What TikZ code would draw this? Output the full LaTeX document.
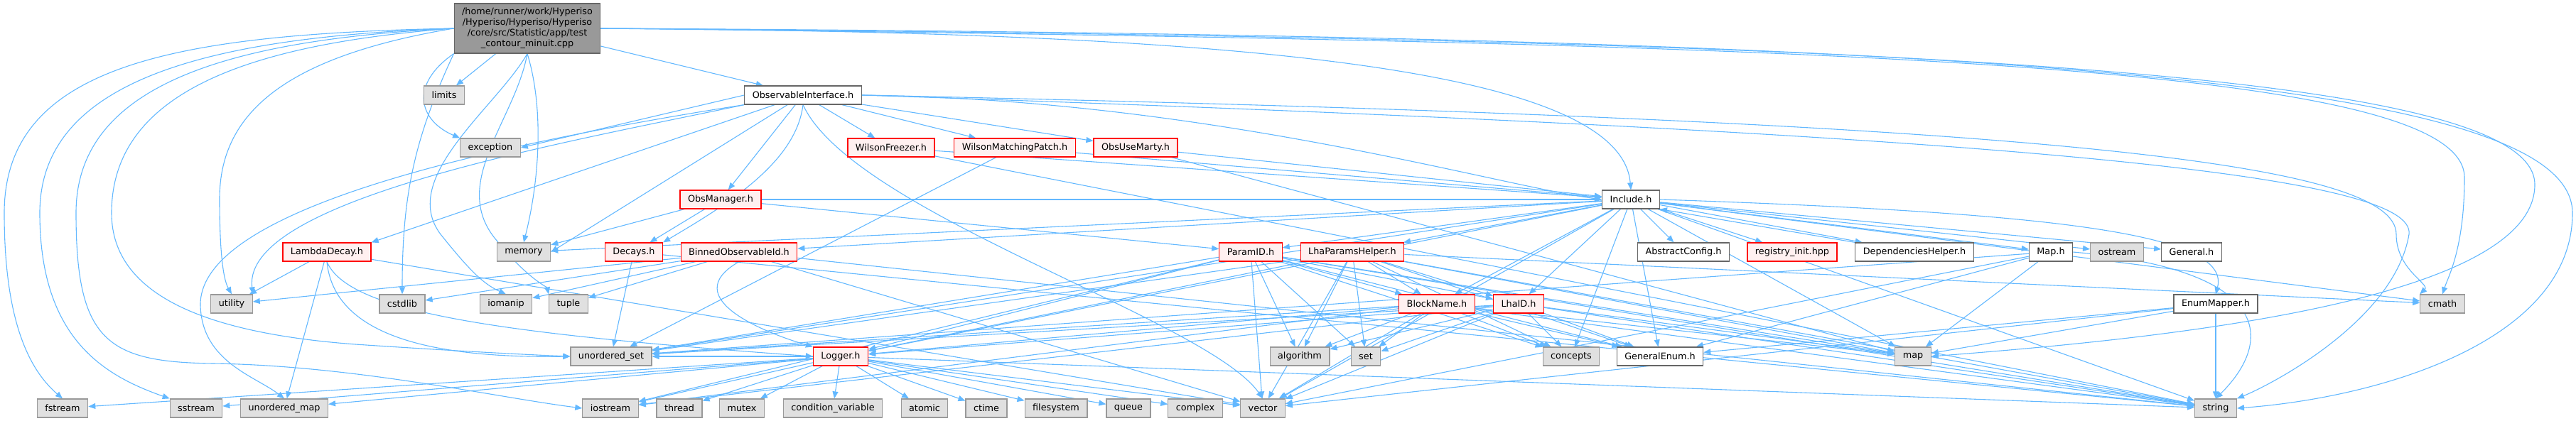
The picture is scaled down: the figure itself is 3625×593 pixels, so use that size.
\documentclass[tikz,border=0pt]{standalone}
\usepackage{fontspec}
\setmainfont{DejaVu Sans}
\usepackage{tikz}
\usetikzlibrary{arrows.meta,backgrounds}
\definecolor{depblue}{HTML}{63B8FF}
\definecolor{sysfill}{HTML}{E0E0E0}
\definecolor{sysdraw}{HTML}{999999}
\definecolor{redfill}{HTML}{FFF0F0}
\definecolor{plaindraw}{HTML}{666666}
\definecolor{mainfill}{HTML}{999999}

\begin{document}
\begin{tikzpicture}[x=1pt, y=-1pt,
	box/.style={font=\fontsize{12.8}{15}\selectfont, inner xsep=11pt, inner ysep=0pt, minimum height=26pt, line width=1.2pt},
	sysbox/.style={box, draw=sysdraw, fill=sysfill},
	redbox/.style={box, draw=red, fill=redfill},
	plainbox/.style={box, draw=plaindraw, fill=white},
	mainbox/.style={box, draw=plaindraw, fill=mainfill, align=center, minimum height=70pt},
	dep/.style={draw=depblue, line width=1.1pt, -{Triangle[length=10pt,width=8pt]}}]
			%%%%% START %%%%%
			\useasboundingbox (0,0) rectangle (3625,593);
			
			\node[mainbox] (main) at (742,40) {/home/runner/work/Hyperiso\\/Hyperiso/Hyperiso/Hyperiso\\/core/src/Statistic/app/test\\\_contour\_minuit.cpp};
			
			\node[sysbox] (limits) at (625,134) {limits};
			\node[plainbox] (oiface) at (1130,134) {ObservableInterface.h};
			
			\node[sysbox] (exc) at (690,208) {exception};
			\node[redbox] (wfreeze) at (1254,208) {WilsonFreezer.h};
			\node[redbox] (wmatch) at (1428,208) {WilsonMatchingPatch.h};
			\node[redbox] (obsmarty) at (1598,208) {ObsUseMarty.h};
			
			\node[redbox] (obsman) at (1014,281) {ObsManager.h};
			\node[plainbox] (incl) at (2295,281) {Include.h};
			
			\node[redbox] (lambdadec) at (460,355) {LambdaDecay.h};
			\node[sysbox] (memory) at (737,355) {memory};
			\node[redbox] (decays) at (892,355) {Decays.h};
			\node[redbox] (binned) at (1040,355) {BinnedObservableId.h};
			\node[redbox] (paramid) at (1760,355) {ParamID.h};
			\node[redbox] (lhaparams) at (1903,355) {LhaParamsHelper.h};
			\node[plainbox] (absconf) at (2369,355) {AbstractConfig.h};
			\node[redbox] (reginit) at (2522,355) {registry\_init.hpp};
			\node[plainbox] (depshelp) at (2694,355) {DependenciesHelper.h};
			\node[plainbox] (maph) at (2886,355) {Map.h};
			\node[sysbox] (ostream) at (2979,355) {ostream};
			\node[plainbox] (generalh) at (3084,355) {General.h};
			
			\node[sysbox] (utility) at (326,428) {utility};
			\node[sysbox] (cstdlib) at (566,428) {cstdlib};
			\node[sysbox] (iomanip) at (712,428) {iomanip};
			\node[sysbox] (tuple) at (800,428) {tuple};
			\node[redbox] (blockname) at (2022,428) {BlockName.h};
			\node[redbox] (lhaid) at (2137,428) {LhaID.h};
			\node[plainbox] (enummap) at (3118,428) {EnumMapper.h};
			\node[sysbox] (cmath) at (3437,428) {cmath};
			
			\node[sysbox] (uset) at (860,502) {unordered\_set};
			\node[redbox] (logger) at (1183,502) {Logger.h};
			\node[sysbox] (algorithm) at (1829,502) {algorithm};
			\node[sysbox] (set) at (1922,502) {set};
			\node[sysbox] (concepts) at (2211,502) {concepts};
			\node[plainbox] (genenum) at (2336,502) {GeneralEnum.h};
			\node[sysbox] (map) at (2692,502) {map};
			
			\node[sysbox] (fstream) at (88,575) {fstream};
			\node[sysbox] (sstream) at (276,575) {sstream};
			\node[sysbox] (umap) at (400,575) {unordered\_map};
			\node[sysbox] (iostream) at (859,575) {iostream};
			\node[sysbox] (thread) at (956,575) {thread};
			\node[sysbox] (mutex) at (1044,575) {mutex};
			\node[sysbox] (condvar) at (1172,575) {condition\_variable};
			\node[sysbox] (atomic) at (1301,575) {atomic};
			\node[sysbox] (ctime) at (1388,575) {ctime};
			\node[sysbox] (filesys) at (1486,575) {filesystem};
			\node[sysbox] (queue) at (1588,575) {queue};
			\node[sysbox] (complex) at (1682,575) {complex};
			\node[sysbox] (vector) at (1777,575) {vector};
			\node[sysbox] (string) at (3118,575) {string};
			
			\begin{pgfonlayer}{background}
			% test_contour_minuit.cpp
			\draw[dep] (main) -- (limits);
			\draw[dep] (main.south west) .. controls (575,120) and (590,170) .. (exc.north west);
			\draw[dep] (main) -- (oiface);
			\draw[dep] (main.east) .. controls (1700,45) and (2280,90) .. (incl.north);
			\draw[dep] (main.west) .. controls (250,48) and (6,90) .. (6,300) .. controls (6,450) and (40,520) .. (fstream.north);
			\draw[dep] (main.west) .. controls (300,52) and (56,110) .. (56,300) .. controls (56,480) and (150,530) .. (sstream.north west);
			\draw[dep] (main.west) .. controls (320,56) and (107,120) .. (107,300) .. controls (107,480) and (150,510) .. (300,512) .. controls (500,515) and (700,560) .. (iostream.west);
			\draw[dep] (main.west) .. controls (350,62) and (157,130) .. (157,300) .. controls (157,420) and (300,470) .. (500,485) .. controls (650,495) and (750,500) .. (uset.west);
			\draw[dep] (main.west) .. controls (400,80) and (309,160) .. (309,280) .. controls (309,380) and (318,400) .. (utility.north);
			\draw[dep] (main.south west) to[out=-115,in=90] (cstdlib.north);
			\draw[dep] (main.south) .. controls (700,150) and (560,250) .. (620,330) .. controls (660,380) and (680,400) .. (iomanip.north);
			\draw[dep] (main.south) .. controls (725,170) and (630,260) .. (700,340) .. controls (740,390) and (770,405) .. (tuple.north west);
			\draw[dep] (main.south) .. controls (765,150) and (760,250) .. (memory.north);
			\draw[dep] (main.east) .. controls (2600,60) and (3468,90) .. (3468,250) .. controls (3468,350) and (3445,390) .. (cmath.north);
			\draw[dep] (main.east) .. controls (2700,55) and (3567,100) .. (3567,260) .. controls (3567,430) and (3000,480) .. (map.east);
			\draw[dep] (main.east) .. controls (2800,50) and (3620,110) .. (3620,300) .. controls (3620,480) and (3350,560) .. (string.east);
			
			% ObservableInterface.h
			\draw[dep] (oiface) -- (lambdadec.north east);
			\draw[dep] (oiface.south west) .. controls (800,200) and (340,280) .. (utility.north east);
			\draw[dep] (oiface.south west) .. controls (650,210) and (280,300) .. (282,430) .. controls (284,510) and (360,530) .. (umap.north);
			\draw[dep] (oiface) -- (memory.east);
			\draw[dep] (oiface.south) .. controls (1120,230) and (1020,290) .. (decays.north east);
			\draw[dep] (oiface.west) -- (exc.east);
			\draw[dep] (oiface) -- (obsman);
			\draw[dep] (oiface) -- (wfreeze);
			\draw[dep] (oiface) -- (wmatch);
			\draw[dep] (oiface) -- (obsmarty);
			\draw[dep] (oiface.east) .. controls (1700,140) and (2100,260) .. (incl.west);
			\draw[dep] (oiface.south) .. controls (1200,300) and (1700,450) .. (vector.north);
			\draw[dep] (oiface.east) .. controls (2900,170) and (3372,230) .. (3372,330) .. controls (3372,380) and (3420,400) .. (cmath.north west);
			\draw[dep] (oiface.east) .. controls (2900,190) and (3400,250) .. (3390,330) .. controls (3370,450) and (3200,540) .. (string.north east);
			
			% ObsManager.h and the Wilson headers
			\draw[dep] (obsman) -- (decays);
			\draw[dep] (obsman) -- (memory);
			\draw[dep] (obsman) -- (paramid);
			\draw[dep] (obsman) -- (incl);
			\draw[dep] (wfreeze) -- (incl);
			\draw[dep] (wfreeze) -- (string);
			\draw[dep] (wmatch) -- (incl);
			\draw[dep] (wmatch) -- (uset);
			\draw[dep] (obsmarty) -- (incl);
			\draw[dep] (obsmarty) -- (map);
			
			% LambdaDecay.h, Decays.h, BinnedObservableId.h
			\draw[dep] (lambdadec) -- (utility);
			\draw[dep] (lambdadec) -- (umap);
			\draw[dep] (lambdadec.south) .. controls (470,470) and (600,505) .. (uset.west);
			\draw[dep] (lambdadec.south) .. controls (490,440) and (700,470) .. (logger.west);
			\draw[dep] (lambdadec) -- (vector);
			\draw[dep] (decays) -- (uset);
			\draw[dep] (decays) -- (string);
			\draw[dep] (binned) -- (utility);
			\draw[dep] (binned) -- (cstdlib);
			\draw[dep] (binned) -- (iomanip);
			\draw[dep] (binned) -- (tuple);
			\draw[dep] (binned.south) .. controls (950,420) and (1080,470) .. (logger.north west);
			\draw[dep] (binned) -- (vector);
			\draw[dep] (binned) -- (string);
			
			% Include.h
			\draw[dep] (incl) -- (binned);
			\draw[dep] (incl) -- (paramid);
			\draw[dep] (incl) -- (lhaparams);
			\draw[dep] (incl) -- (blockname);
			\draw[dep] (incl) -- (lhaid);
			\draw[dep] (incl) -- (logger);
			\draw[dep] (incl) -- (absconf);
			\draw[dep] (incl) -- (reginit);
			\draw[dep] (incl) -- (depshelp);
			\draw[dep] (incl) -- (maph);
			\draw[dep] (incl) -- (ostream);
			\draw[dep] (incl) -- (generalh);
			\draw[dep] (incl.east) .. controls (2900,300) and (3140,330) .. (enummap.north);
			\draw[dep] (incl) -- (concepts);
			\draw[dep] (incl) -- (genenum);
			\draw[dep] (incl) -- (map);
			\draw[dep] (incl) -- (string);
			\draw[dep] (incl) -- (vector);
			\draw[dep] (incl) -- (cmath);
			\draw[dep] (incl) -- (memory);
			\draw[dep] (incl) -- (uset);
			\draw[dep] (depshelp.north west) -- (incl.south east);
			
			% ParamID.h and LhaParamsHelper.h
			\draw[dep] (paramid) -- (logger);
			\draw[dep] (paramid) -- (uset);
			\draw[dep] (paramid) -- (algorithm);
			\draw[dep] (paramid) -- (set);
			\draw[dep] (paramid) -- (vector);
			\draw[dep] (paramid) -- (blockname);
			\draw[dep] (paramid) -- (lhaid);
			\draw[dep] (paramid) -- (genenum);
			\draw[dep] (paramid) -- (concepts);
			\draw[dep] (paramid) -- (string);
			\draw[dep] (paramid) -- (map);
			\draw[dep] (paramid) -- (iostream);
			\draw[dep] (lhaparams) -- (blockname);
			\draw[dep] (lhaparams) -- (lhaid);
			\draw[dep] (lhaparams) -- (algorithm);
			\draw[dep] (lhaparams) -- (set);
			\draw[dep] (lhaparams) -- (concepts);
			\draw[dep] (lhaparams) -- (genenum);
			\draw[dep] (lhaparams) -- (map);
			\draw[dep] (lhaparams) -- (string);
			\draw[dep] (lhaparams) -- (vector);
			\draw[dep] (lhaparams) -- (cmath);
			\draw[dep] (lhaparams) -- (logger);
			\draw[dep] (lhaparams) -- (uset);
			
			% BlockName.h and LhaID.h
			\draw[dep] (blockname) -- (logger);
			\draw[dep] (blockname) -- (algorithm);
			\draw[dep] (blockname) -- (set);
			\draw[dep] (blockname) -- (concepts);
			\draw[dep] (blockname) -- (genenum);
			\draw[dep] (blockname) -- (map);
			\draw[dep] (blockname) -- (string);
			\draw[dep] (blockname) -- (vector);
			\draw[dep] (blockname) -- (uset);
			\draw[dep] (blockname) -- (iostream);
			\draw[dep] (lhaid) -- (logger);
			\draw[dep] (lhaid) -- (algorithm);
			\draw[dep] (lhaid) -- (set);
			\draw[dep] (lhaid) -- (concepts);
			\draw[dep] (lhaid) -- (genenum);
			\draw[dep] (lhaid) -- (map);
			\draw[dep] (lhaid) -- (string);
			\draw[dep] (lhaid) -- (vector);
			\draw[dep] (lhaid) -- (uset);
			\draw[dep] (lhaid) -- (iostream);
			
			% Map.h and EnumMapper.h
			\draw[dep] (maph) -- (map);
			\draw[dep] (maph.east) .. controls (3200,380) and (3200,480) .. (string.north);
			\draw[dep] (maph) -- (vector);
			\draw[dep] (maph) -- (genenum);
			\draw[dep] (maph) -- (uset);
			\draw[dep] (enummap) -- (map);
			\draw[dep] (enummap) -- (string);
			\draw[dep] (enummap) -- (vector);
			\draw[dep] (enummap) -- (genenum);
			
			% Logger.h
			\draw[dep] (logger) -- (iostream);
			\draw[dep] (logger) -- (fstream);
			\draw[dep] (logger) -- (sstream);
			\draw[dep] (logger) -- (umap);
			\draw[dep] (logger) -- (thread);
			\draw[dep] (logger) -- (mutex);
			\draw[dep] (logger) -- (condvar);
			\draw[dep] (logger) -- (atomic);
			\draw[dep] (logger) -- (ctime);
			\draw[dep] (logger) -- (filesys);
			\draw[dep] (logger) -- (queue);
			\draw[dep] (logger) -- (complex);
			\draw[dep] (logger) -- (vector);
			\draw[dep] (logger) -- (string);
			\draw[dep] (logger) -- (uset);
			\end{pgfonlayer}
			%%%%% END %%%%%
\end{tikzpicture}
\end{document}
